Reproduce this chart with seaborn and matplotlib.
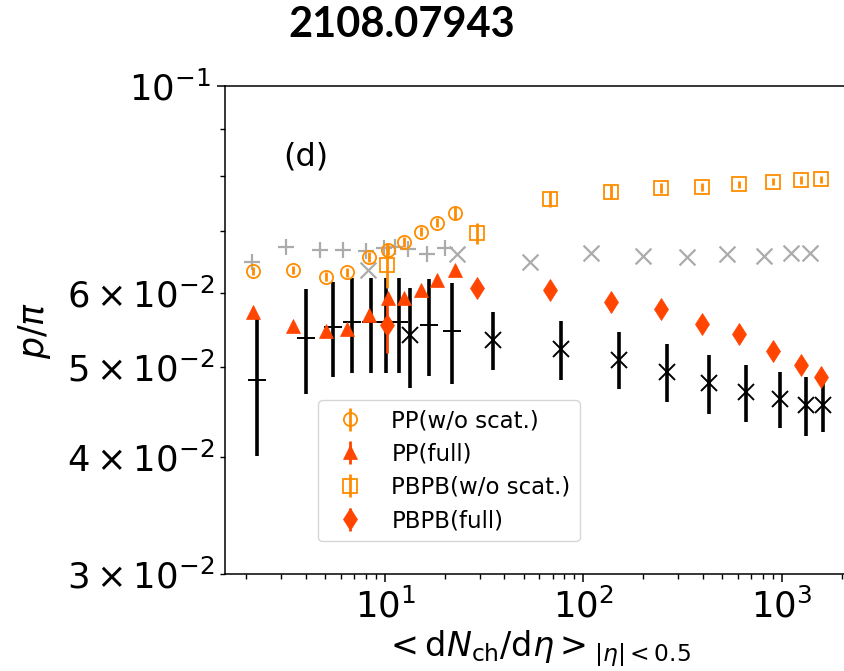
import matplotlib
matplotlib.use("Agg")
import matplotlib.pyplot as plt
import seaborn as sns
from matplotlib.ticker import FixedLocator, FixedFormatter

# ---------------- data ----------------
# PP model points
pp_x = [2.16, 3.45, 5.05, 6.41, 8.34, 10.4, 12.5, 15.1, 18.3, 22.5]
pp_noscat = [0.0634, 0.0635, 0.0625, 0.0632, 0.0656, 0.0667, 0.0681, 0.0698, 0.0714, 0.0731]
pp_noscat_err = [0.0006, 0.0006, 0.0007, 0.0007, 0.0008, 0.0008, 0.0008, 0.0008, 0.0008, 0.0012]
pp_full = [0.0573, 0.0553, 0.0547, 0.0549, 0.0569, 0.0593, 0.0593, 0.0604, 0.0619, 0.0635]
pp_full_err = [0.0006, 0.0006, 0.0006, 0.0006, 0.0006, 0.0006, 0.0006, 0.0006, 0.0006, 0.0006]

# PbPb model points
pb_x = [10.2, 29.1, 68.2, 138, 245, 396, 604, 906, 1243, 1576]
pb_noscat = [0.0643, 0.0695, 0.0757, 0.0770, 0.0778, 0.0780, 0.0785, 0.0790, 0.0793, 0.0794]
pb_noscat_err = [0.0036, 0.0018, 0.0015, 0.0013, 0.0010, 0.0008, 0.0007, 0.0007, 0.0007, 0.0007]
pb_full = [0.0555, 0.0608, 0.0604, 0.0587, 0.0577, 0.0556, 0.0543, 0.0520, 0.0503, 0.0488]
pb_full_err = [0.0037, 0.0009, 0.0005, 0.0005, 0.0005, 0.0005, 0.0005, 0.0005, 0.0005, 0.0005]

# measured pp data (black +)
dpp_x = [2.27, 4.0, 5.45, 6.80, 8.50, 10.1, 11.7, 16.7, 21.7]
dpp_y = [0.0484, 0.0537, 0.0552, 0.0558, 0.0558, 0.0558, 0.0558, 0.0555, 0.0547]
dpp_err = [0.0083, 0.0069, 0.0064, 0.0065, 0.0065, 0.0065, 0.0065, 0.0066, 0.0068]

# measured PbPb data (black x)
dpb_x = [13.3, 35.1, 76.8, 151, 263, 430, 658, 977, 1329, 1615]
dpb_y = [0.0541, 0.0534, 0.0522, 0.0509, 0.0494, 0.0480, 0.0470, 0.0462, 0.0455, 0.0455]
dpb_err = [0.0066, 0.0038, 0.0038, 0.0036, 0.0035, 0.0035, 0.0033, 0.0032, 0.0033, 0.0029]

# grey pp points (+)
gpp_x = [2.13, 3.17, 4.70, 6.12, 7.99, 9.92, 11.2, 13.1, 16.2, 20.1]
gpp_y = [0.0648, 0.0673, 0.0667, 0.0667, 0.0666, 0.0670, 0.0673, 0.0669, 0.0661, 0.0670]

# grey PbPb points (x)
gpb_x = [8.24, 23.0, 53.8, 109, 200, 333, 527, 812, 1106, 1384]
gpb_y = [0.0635, 0.0661, 0.0647, 0.0662, 0.0657, 0.0656, 0.0660, 0.0658, 0.0662, 0.0663]

ytick_vals = [0.03, 0.04, 0.05, 0.06, 0.07, 0.08, 0.09]
ytick_labels = [r"$\mathdefault{3\times10^{-2}}$", r"$\mathdefault{4\times10^{-2}}$",
                r"$\mathdefault{5\times10^{-2}}$", r"$\mathdefault{6\times10^{-2}}$", "", "", ""]

# ---------------- style ----------------
sns.set_theme(style="ticks")
plt.rcParams["font.family"] = ["DejaVu Sans"]
plt.rcParams["mathtext.fontset"] = "dejavusans"
plt.rcParams["axes.linewidth"] = 1.1
for k in ["text.color", "axes.labelcolor", "xtick.color", "ytick.color", "axes.edgecolor"]:
    plt.rcParams[k] = "black"

ORANGE = "#FF8C00"
RED = "#FF4500"
GREY = "#ABABAB"

fig = plt.figure(figsize=(8.44, 6.71), dpi=100)
W, H = 844, 671
ax_l, ax_r, ax_t, ax_b = 225, 851, 86, 574
ax = fig.add_axes([ax_l / W, 1 - ax_b / H, (ax_r - ax_l) / W, (ax_b - ax_t) / H])
ax.set_xscale("log")
ax.set_yscale("log")

# grey reference points
sns.scatterplot(x=gpp_x, y=gpp_y, marker="+", s=120, color=GREY, linewidth=1.6, ax=ax, zorder=2)
sns.scatterplot(x=gpb_x, y=gpb_y, marker="x", s=130, color=GREY, linewidth=1.6, ax=ax, zorder=2)

# black data with error bars
ax.errorbar(dpp_x, dpp_y, yerr=dpp_err, fmt="+", color="black", ms=13, mew=1.4,
            elinewidth=2.6, capsize=0, zorder=3)
ax.errorbar(dpb_x, dpb_y, yerr=dpb_err, fmt="x", color="black", ms=11, mew=1.4,
            elinewidth=2.6, capsize=0, zorder=3)

# model points
ax.errorbar(pp_x, pp_noscat, yerr=pp_noscat_err, fmt="o", mfc="none", mec=ORANGE, color=ORANGE,
            ms=9.5, mew=1.3, elinewidth=2.0, capsize=0, label="PP(w/o scat.)", zorder=4)
ax.errorbar(pp_x, pp_full, yerr=pp_full_err, fmt="^", mfc=RED, mec=RED, color=RED,
            ms=10.5, mew=0.5, elinewidth=2.0, capsize=0, label="PP(full)", zorder=4)
ax.errorbar(pb_x, pb_noscat, yerr=pb_noscat_err, fmt="s", mfc="none", mec=ORANGE, color=ORANGE,
            ms=10.0, mew=1.3, elinewidth=2.0, capsize=0, label="PBPB(w/o scat.)", zorder=4)
ax.errorbar(pb_x, pb_full, yerr=pb_full_err, fmt="d", mfc=RED, mec=RED, color=RED,
            ms=11.5, mew=0.5, elinewidth=2.0, capsize=0, label="PBPB(full)", zorder=4)

# axes limits and ticks
ax.set_xlim(1.563, 2227)
ax.set_ylim(0.03, 0.1)
ax.yaxis.set_major_locator(FixedLocator([0.1]))
ax.yaxis.set_minor_locator(FixedLocator(ytick_vals))
ax.yaxis.set_minor_formatter(FixedFormatter(ytick_labels))
ax.tick_params(axis="both", which="major", labelsize=25.5, length=6, width=1.1, direction="out")
ax.tick_params(axis="both", which="minor", labelsize=25.5, length=3.5, width=1.0, direction="out")
ax.tick_params(axis="y", which="both", pad=4)
ax.tick_params(axis="x", which="both", pad=4)

ax.spines["right"].set_visible(False)
ax.spines["top"].set_visible(True)

ax.set_xlabel(r"$<\mathrm{d}N_{\mathrm{ch}}/\mathrm{d}\eta>_{|\eta|<0.5}$", fontsize=24)
ax.set_ylabel(r"$p/\pi$", fontsize=25)
ax.xaxis.set_label_coords(0.499, -0.112)
ax.yaxis.set_label_coords(-0.275, 0.5)

ax.text(0.129, 0.8545, "(d)", transform=ax.transAxes, fontsize=23, ha="center", va="center")

leg = ax.legend(loc="upper left", bbox_to_anchor=(0.1486, 0.3566), borderaxespad=0,
                fontsize=16.5, frameon=True, fancybox=True, framealpha=0.8,
                edgecolor="#cccccc", handletextpad=0.8, borderpad=0.4, labelspacing=0.45)

fig.text(402 / W, 1 - 25 / H, "2108.07943", fontsize=30, fontweight="bold",
         family=["Lato", "DejaVu Sans"], ha="center", va="center")

fig.savefig("out.png", dpi=100)
